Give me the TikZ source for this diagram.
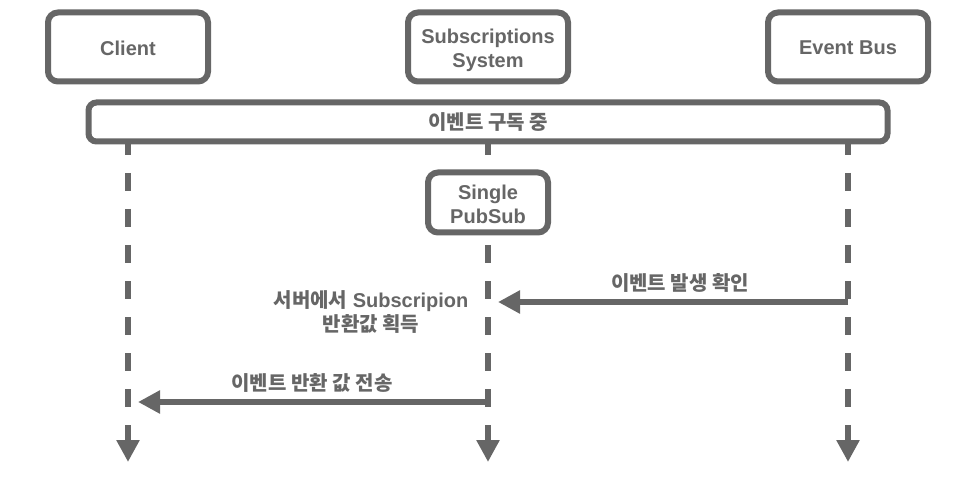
\documentclass[tikz,border=0pt]{standalone}
\usepackage{fontspec}
\setmainfont{Liberation Sans}
\newfontfamily\kr{Noto Sans CJK KR}
\usetikzlibrary{arrows.meta}
\definecolor{gc}{HTML}{666666}
\begin{document}
\begin{tikzpicture}[x=1pt,y=-1pt,
  box/.style={draw=gc, line width=6pt, rounded corners=10pt, fill=white,
    minimum width=160pt, minimum height=69pt, inner sep=0pt},
  lbl/.style={text=gc, align=center, inner sep=0pt, font=\fontsize{20}{24}\selectfont\bfseries},
  life/.style={draw=gc, line width=6pt, dash pattern=on 18pt off 18pt,
    -{Triangle[length=22pt,width=22pt]}},
  msg/.style={draw=gc, line width=6pt, -{Triangle[length=22pt,width=22pt]}}]
\useasboundingbox (0,0) rectangle (971,486);
% lifeline coordinates
\coordinate (l1a) at (128,137);
\coordinate (l1b) at (128,462);
\coordinate (l2a) at (488,137);
\coordinate (l2b) at (488,462);
\coordinate (l3a) at (848,137);
\coordinate (l3b) at (848,462);
\draw[life] (l1a) -- (l1b);
\draw[life] (l2a) -- (l2b);
\draw[life] (l3a) -- (l3b);
% header boxes
\node[box] (client) at (128,47) {};
\node[lbl] (client-t) at (128,48) {Client};
\node[box] (subs) at (488,47) {};
\node[lbl] (subs-t) at (488,50) {Subscriptions\\System};
\node[box] (bus) at (848,47) {};
\node[lbl] (bus-t) at (848,48) {Event Bus};
% bar
\node[box, minimum width=799pt, minimum height=39pt, rounded corners=8pt] (bar) at (488,122) {};
\node[lbl] (bar-t) at (488,122) {\kr 이벤트 구독 중};
% single pubsub
\node[box, minimum width=120pt, minimum height=60pt] (pubsub) at (488,202.5) {};
\node[lbl] (pubsub-t) at (488,204) {Single\\PubSub};
% messages
\coordinate (m1s) at (848,302);
\coordinate (m1e) at (498,302);
\draw[msg] (m1s) -- (m1e);
\node[lbl] (m1l) at (680,282.5) {\kr 이벤트 발생 확인};
\node[lbl] (note) at (371,312) {{\kr 서버에서} Subscripion\\{\kr 반환값 획득}};
\coordinate (m2s) at (488,402);
\coordinate (m2e) at (138,402);
\draw[msg] (m2s) -- (m2e);
\node[lbl] (m2l) at (312,382.5) {\kr 이벤트 반환 값 전송};
\end{tikzpicture}
\end{document}
